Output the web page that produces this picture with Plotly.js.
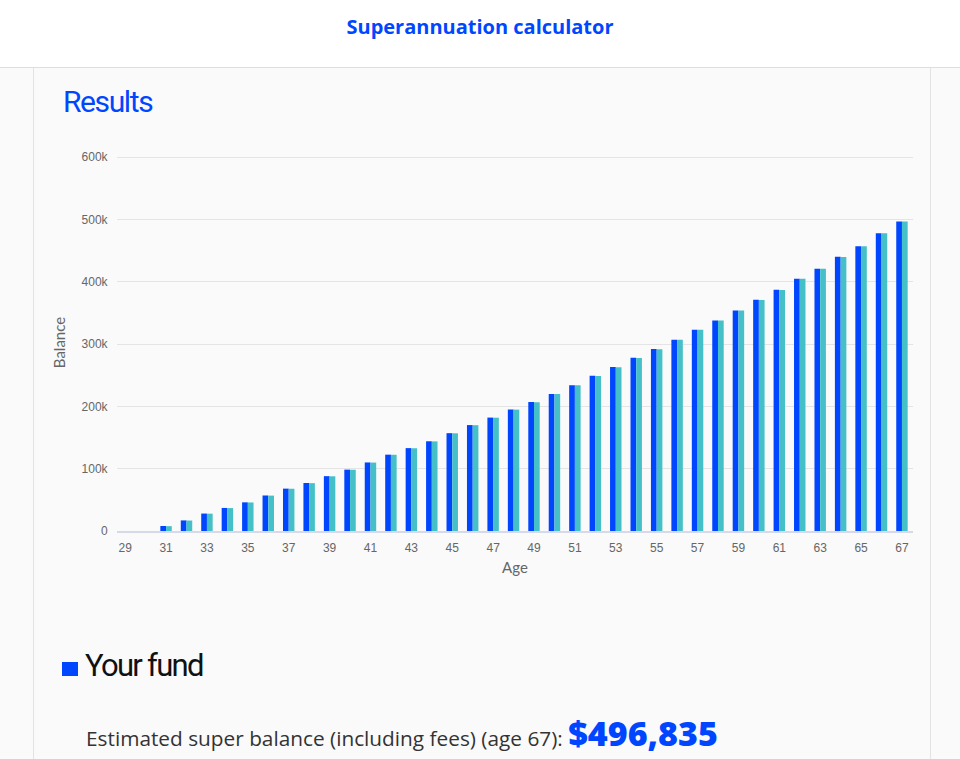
<!DOCTYPE html>
<html>
<head>
<meta charset="utf-8">
<script src="https://cdn.plot.ly/plotly-3.0.1.min.js"></script>
<style>
  body { margin: 0; width: 960px; height: 759px; background: #fafafa; overflow: hidden; font-family: "Open Sans", sans-serif; position: relative; }
  #header { position: absolute; left: 0; top: 0; width: 960px; height: 67px; background: #fff; border-bottom: 1px solid #ddd; }
  #header div { position: absolute; top: 13px; width: 100%; text-align: center; color: #0046ff; font-weight: 700; font-size: 20px; }
  #panel { position: absolute; left: 33px; top: 68px; width: 896px; height: 700px; border-left: 1px solid #e3e3e3; border-right: 1px solid #e3e3e3; background: #fafafa; }
  #results { position: absolute; left: 63px; top: 84px; color: #0046ff; font-family: Roboto, sans-serif; font-size: 30px; letter-spacing: -1.4px; }
  #myPlot { position: absolute; left: 33px; top: 130px; width: 897px; height: 460px; }
  #fund { position: absolute; left: 62px; top: 647px; font-family: Roboto, sans-serif; font-size: 31px; letter-spacing: -1.7px; color: #111; }
  #fund span { display: inline-block; width: 16px; height: 14px; background: #0046ff; margin-right: 7px; }
  #est { position: absolute; left: 86px; top: 710px; font-size: 20.8px; color: #333; white-space: nowrap; }
  #est b { color: #0046ff; font-size: 34px; font-weight: 800; }
</style>
</head>
<body>
<div id="header"><div>Superannuation calculator</div></div>
<div id="panel"></div>
<div id="results">Results</div>
<div id="myPlot"></div>
<div id="fund"><span></span>Your fund</div>
<div id="est">Estimated super balance (including fees) (age 67): <b>$496,835</b></div>
<script>
const ages = [29, 30, 31, 32, 33, 34, 35, 36, 37, 38, 39, 40, 41, 42, 43, 44, 45, 46, 47, 48,
    49, 50, 51, 52, 53, 54, 55, 56, 57, 58, 59, 60, 61, 62, 63, 64, 65, 66, 67];
const balanceA = [0, 0, 8000, 17000, 28000, 37000, 46000, 57000, 68000, 77000,
    88000, 98500, 110000, 122500, 133000, 144000, 157000, 170000, 182000, 195000,
    207000, 220000, 234000, 249000, 263000, 278000, 292000, 307000, 323000, 338000,
    354000, 371000, 387000, 405000, 421000, 440000, 457000, 478000, 496835];
const balanceB = [0, 0, 7800, 16800, 27800, 36800, 45800, 56800, 67800, 76800,
    87800, 98300, 109800, 122300, 132800, 143800, 156800, 169800, 181800, 194800,
    206800, 219800, 233800, 248800, 262800, 277800, 291800, 306800, 322800, 337800,
    353800, 370800, 386800, 404800, 420800, 439800, 456800, 477800, 496500];
const xTicks = [29, 31, 33, 35, 37, 39, 41, 43, 45, 47, 49, 51, 53, 55, 57, 59, 61, 63, 65, 67];
const yTicks = [0, 100000, 200000, 300000, 400000, 500000, 600000];
const yLabels = ['0', '100k', '200k', '300k', '400k', '500k', '600k'];

function drawChart() {
    const traceA = {
        x: ages,
        y: balanceA,
        type: 'bar',
        name: 'Your fund',
        marker: {color: '#0046ff', line: {width: 0}},
        hoverinfo: 'skip'
    };
    const traceB = {
        x: ages,
        y: balanceB,
        type: 'bar',
        name: 'Comparison',
        marker: {color: '#45c0c8', line: {width: 0}},
        hoverinfo: 'skip'
    };
    const layout = {
        width: 897,
        height: 460,
        margin: {l: 84, r: 17, t: 24, b: 59},
        paper_bgcolor: 'rgba(0,0,0,0)',
        plot_bgcolor: 'rgba(0,0,0,0)',
        barmode: 'group',
        bargap: 0.44,
        bargroupgap: 0,
        showlegend: false,
        font: {family: 'Liberation Sans, Arial, sans-serif', size: 12, color: '#666'},
        xaxis: {
            range: [28.6, 67.54],
            tickvals: xTicks,
            ticks: 'outside',
            ticklen: 5,
            tickcolor: 'rgba(0,0,0,0)',
            showgrid: false,
            zeroline: false,
            showline: true,
            linecolor: '#d5d9e8',
            linewidth: 2,
            title: {text: 'Age', font: {family: 'Lato, sans-serif', size: 15, color: '#666'}, standoff: 8}
        },
        yaxis: {
            range: [0, 605000],
            tickvals: yTicks,
            ticktext: yLabels,
            ticks: 'outside',
            ticklen: 6,
            tickcolor: 'rgba(0,0,0,0)',
            gridcolor: '#e4e4e4',
            zeroline: false,
            title: {text: 'Balance', font: {family: 'Lato, sans-serif', size: 15, color: '#666'}, standoff: 12}
        }
    };
    Plotly.newPlot('myPlot', [traceA, traceB], layout, {staticPlot: true});
}

drawChart();
</script>
</body>
</html>
